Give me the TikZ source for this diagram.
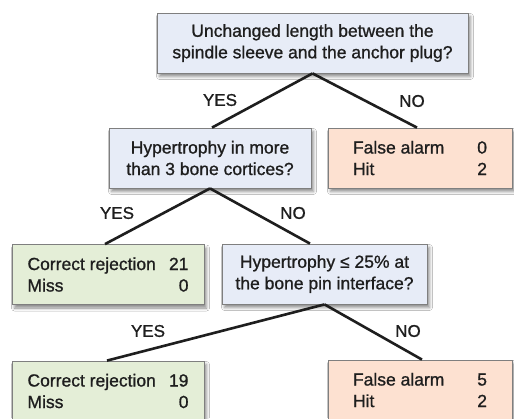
\documentclass[tikz,border=0pt]{standalone}
\usepackage{fontspec}
\setmainfont{Liberation Sans}
\newfontfamily\medfont{Liberation Sans}[FakeBold=1.0]
\usetikzlibrary{shadows.blur}
\definecolor{qblue}{HTML}{E7ECF7}
\definecolor{okgreen}{HTML}{E4EED7}
\definecolor{alarm}{HTML}{FDE1D1}
\definecolor{boxline}{HTML}{7F7F7F}
\definecolor{textcol}{HTML}{1E1E1E}
\tikzset{
  box/.style={draw=boxline, line width=0.8pt, minimum height=60pt, inner sep=0pt,
    blur shadow={shadow xshift=2.5pt, shadow yshift=-3.5pt, shadow blur radius=3pt, shadow opacity=45},
    font=\medfont\fontsize{17.5}{21.5}\selectfont, text=textcol},
  question/.style={box, fill=qblue, align=center},
  reject/.style={box, fill=okgreen, align=left},
  hit/.style={box, fill=alarm, align=left},
  branch/.style={line width=2.6pt, draw=textcol},
  answer/.style={font=\medfont\fontsize{17}{20}\selectfont, text=textcol, inner sep=0pt}
}
\begin{document}
\begin{tikzpicture}[x=1pt, y=-1pt]
\clip (0,0) rectangle (514,418);
\fill[white] (0,0) rectangle (514,418);
% nodes
\node[question, minimum width=311pt] (top) at (312.5,43)
  {Unchanged length between the\\spindle sleeve and the anchor plug?};
\node[question, minimum width=202pt] (q2) at (210,158)
  {Hypertrophy in more\\than 3 bone cortices?};
\node[hit, minimum width=184pt] (fa1) at (420,158)
  {\makebox[134pt]{False alarm\hfill 0}\\\makebox[134pt]{Hit\hfill 2}};
\node[reject, minimum width=192pt] (g1) at (108,274.5)
  {\makebox[161pt]{Correct rejection\hfill 21}\\\makebox[161pt]{Miss\hfill 0}};
\node[question, minimum width=205pt] (q3) at (324.5,274)
  {Hypertrophy ≤ 25\% at\\the bone pin interface?};
\node[reject, minimum width=192pt] (g2) at (108,391)
  {\makebox[161pt]{Correct rejection\hfill 19}\\\makebox[161pt]{Miss\hfill 0}};
\node[hit, minimum width=184pt] (fa2) at (420,390)
  {\makebox[134pt]{False alarm\hfill 5}\\\makebox[134pt]{Hit\hfill 2}};
% connectors
\draw[branch] (top.south) -- ([xshift=2pt]q2.north);
\draw[branch] (top.south) -- ([xshift=-3pt]fa1.north);
\draw[branch] (q2.south) -- ([xshift=-3pt]g1.north);
\draw[branch] (q2.south) -- ([xshift=-14.5pt]q3.north);
\draw[branch] (q3.south) -- ([xshift=-1pt]g2.north);
\draw[branch] (q3.south) -- ([xshift=2pt]fa2.north);
% labels
\node[answer] (y1) at (220,100) {YES};
\node[answer] (n1) at (412,101) {NO};
\node[answer] (y2) at (117,213) {YES};
\node[answer] (n2) at (293,213) {NO};
\node[answer] (y3) at (148,331) {YES};
\node[answer] (n3) at (408,331) {NO};
\end{tikzpicture}
\end{document}
